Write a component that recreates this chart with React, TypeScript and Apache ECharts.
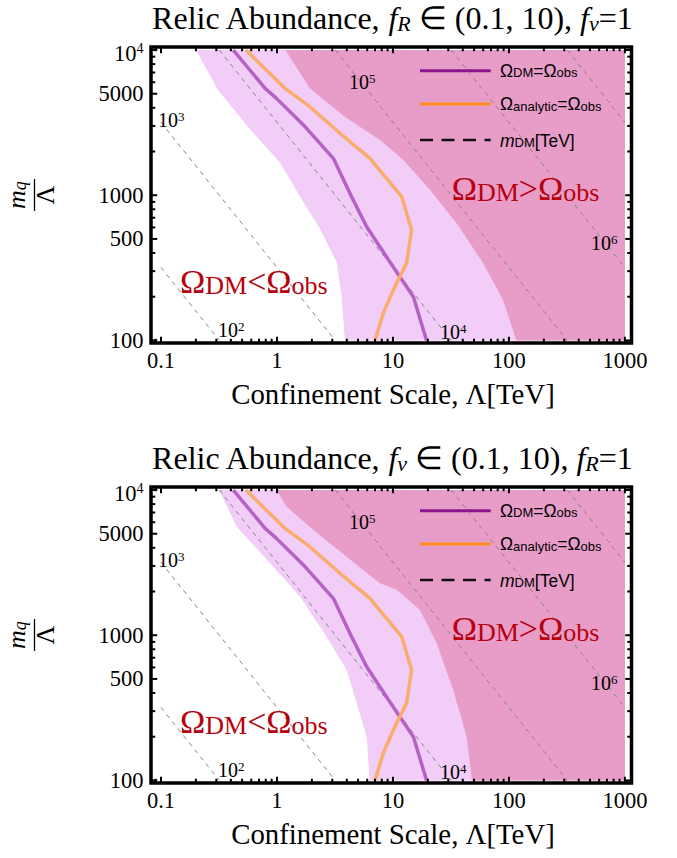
import React, { useEffect, useRef } from 'react';
import * as echarts from 'echarts';

// ---------------- data ----------------
const xMajorTicks = [0.1, 1, 10, 100, 1000];
const xTickLabels = ['0.1', '1', '10', '100', '1000'];
const xMinorTicks = [0.09, 0.2, 0.3, 0.4, 0.5, 0.6, 0.7, 0.8, 0.9, 2, 3, 4, 5, 6, 7, 8, 9,
  20, 30, 40, 50, 60, 70, 80, 90, 200, 300, 400, 500, 600, 700, 800, 900];
const yMajorTicks = [100, 500, 1000, 5000, 10000];
const yTickLabels = ['100', '500', '1000', '5000', '10^4'];
const yMinorTicks = [200, 300, 400, 600, 700, 800, 900, 2000, 3000, 4000, 6000, 7000, 8000, 9000];

// panel 1: f_R in (0.1,10)
const topLight = [[0.2, 10000], [0.31, 5300], [0.585, 2850], [1.06, 1680], [1.58, 980], [2.35, 585],
  [3.27, 345], [3.6, 205], [3.86, 100], [1000, 100], [1000, 10000]];
const topDark = [[1.18, 10000], [1.92, 5450], [3.86, 3460], [7.73, 2400], [12.3, 1750], [20.8, 1090],
  [35.4, 640], [60, 340], [89, 190], [116, 100], [1000, 100], [1000, 10000]];
// panel 2: f_v in (0.1,10)
const bottomLight = [[0.316, 10000], [0.45, 5580], [0.93, 2965], [1.58, 1845], [2.68, 977], [3.99, 577],
  [4.87, 340], [5.93, 200], [6.3, 100], [1000, 100], [1000, 10000]];
const bottomDark = [[0.99, 10000], [1.21, 7680], [2.06, 5310], [3.98, 3473], [7.72, 2280], [10.8, 2053],
  [17.1, 1494], [23.8, 881], [33.1, 420], [43.2, 200], [48, 100], [1000, 100], [1000, 10000]];

// Omega_DM = Omega_obs (same in both panels)
const omegaDMLine = [[0.42, 10000], [0.79, 5446], [0.99, 4645], [1.69, 3048], [3.06, 1795], [4.4, 977],
  [5.93, 607], [9.42, 347], [15, 200], [19.5, 100]];
// Omega_analytic = Omega_obs
const omegaAnalyticLine = [[0.54, 10000], [1.17, 5446], [1.92, 4070], [3.49, 2670], [6.34, 1795],
  [8.3, 1380], [11.9, 977], [14.5, 577], [13.1, 340], [10.1, 223], [8.24, 154], [7.0, 100]];

// m_DM [TeV] contour lines (endpoints)
const mDMLines = [
  [[0.1, 318], [0.318, 100]],
  [[0.1, 3180], [3.18, 100]],
  [[0.318, 10000], [31.8, 100]],
  [[3.18, 10000], [318, 100]],
  [[31.8, 10000], [1000, 318]],
  [[318, 10000], [1000, 3180]],
];
const mDMLabelExp = ['2', '3', '4', '5', '6'];

const panelTitles = [
  '{n|Relic Abundance, }{i|f}{s|R}{n| \u2208 (0.1, 10), }{i|f}{s|v}{n|=1}',
  '{n|Relic Abundance, }{i|f}{s|v}{n| \u2208 (0.1, 10), }{i|f}{s|R}{n|=1}',
];

// ---------------- layout / style ----------------
const GL = 151, GT = 47, GW = 480.5, GH = 296, DY = 440;
const X_MIN = 0.082, X_MAX = 1140, Y_MIN = 96, Y_MAX = 10490;
const SERIF = '"Liberation Serif", "Times New Roman", serif';
const SANS = '"Liberation Sans", Arial, sans-serif';
const LIGHT = '#F1CDF7';
const DARK = '#E89DC8';
const PURPLE_PLOT = '#B463C2';
const ORANGE_PLOT = '#F8AD6D';
const PURPLE_LEG = '#8C168E';
const ORANGE_LEG = '#FF8C1E';
const RED = '#B8000E';

function polygonSeries(points: number[][], gi: number, color: string) {
  return {
    type: 'custom', xAxisIndex: gi, yAxisIndex: gi, silent: true, z: 1,
    data: points,
    renderItem: (params: any, api: any) => {
      if (params.dataIndex !== 0) return null;
      const pts = points.map((p) => api.coord(p));
      return { type: 'polygon', shape: { points: pts }, style: { fill: color } };
    },
  };
}

function lineSeries(points: number[][], gi: number, color: string, width: number, dash: any, z: number) {
  return {
    type: 'line', xAxisIndex: gi, yAxisIndex: gi, data: points, symbol: 'none', silent: true, z,
    lineStyle: { color, width, type: dash },
  };
}

function txt(x: number, y: number, text: string, rich: any, align: string, vAlign: string, base: any) {
  return {
    type: 'text', x, y, silent: true, z: 100,
    style: Object.assign({
      text, rich, align, textAlign: align, verticalAlign: vAlign, textVerticalAlign: vAlign,
      fill: '#000',
    }, base),
  };
}

function supRich(fs: number, sfs: number, family: string) {
  return {
    n: { fontSize: fs, lineHeight: fs, fontFamily: family, fill: '#000' },
    p: { fontSize: sfs, lineHeight: 8, verticalAlign: 'top', fontFamily: family, fill: '#000' },
  };
}

export default function App() {
  const ref = useRef<HTMLDivElement>(null);
  useEffect(() => {
    const chart = echarts.init(ref.current!, undefined, { renderer: 'svg' });
    const axisCommon = {
      type: 'log', logBase: 10,
      axisLine: { show: false }, axisTick: { show: false }, axisLabel: { show: false }, splitLine: { show: false },
    };
    const grids = [0, 1].map((i) => ({
      left: GL, top: GT + i * DY, width: GW, height: GH, show: true,
      borderColor: '#000', borderWidth: 3.5, backgroundColor: 'transparent',
    }));
    const xAxis = [0, 1].map((i) => ({ ...axisCommon, gridIndex: i, min: X_MIN, max: X_MAX }));
    const yAxis = [0, 1].map((i) => ({ ...axisCommon, gridIndex: i, min: Y_MIN, max: Y_MAX }));
    const regions = [[topLight, topDark], [bottomLight, bottomDark]];
    const series: any[] = [];
    regions.forEach((r, i) => {
      series.push(polygonSeries(r[0], i, LIGHT));
      series.push(polygonSeries(r[1], i, DARK));
      mDMLines.forEach((l) => series.push(lineSeries(l, i, '#858585', 1, [4.5, 4.5], 3)));
      series.push(lineSeries(omegaDMLine, i, PURPLE_PLOT, 3.5, 'solid', 4));
      series.push(lineSeries(omegaAnalyticLine, i, ORANGE_PLOT, 3.5, 'solid', 4));
    });
    chart.setOption({ animation: false, grid: grids, xAxis, yAxis, series });

    const g: any[] = [];
    for (let i = 0; i < 2; i++) {
      const top = GT + i * DY, bottom = top + GH, left = GL, right = GL + GW;
      const oy = i * DY;
      const toPx = (x: number, y: number) => chart.convertToPixel({ gridIndex: i } as any, [x, y]) as number[];
      const tick = (x1: number, y1: number, x2: number, y2: number) =>
        g.push({ type: 'line', silent: true, z: 90, shape: { x1, y1, x2, y2 }, style: { stroke: '#000', lineWidth: 2 } });
      const addX = (v: number, len: number) => {
        const px = toPx(v, 1000)[0];
        tick(px, bottom, px, bottom - 1.75 - len);
        tick(px, top, px, top + 1.75 + len);
      };
      const addY = (v: number, len: number) => {
        const py = toPx(1, v)[1];
        tick(left, py, left + 1.75 + len, py);
        tick(right, py, right - 1.75 - len, py);
      };
      xMajorTicks.forEach((v) => addX(v, 4.5));
      xMinorTicks.forEach((v) => addX(v, 2.5));
      yMajorTicks.forEach((v) => addY(v, 4.5));
      yMinorTicks.forEach((v) => addY(v, 2.5));

      // tick labels
      xMajorTicks.forEach((v, k) => {
        const px = toPx(v, 1000)[0];
        g.push(txt(px, bottom + 17, xTickLabels[k], undefined, 'center', 'middle', { fontFamily: SERIF, fontSize: 22.5 }));
      });
      yMajorTicks.forEach((v, k) => {
        const py = toPx(1, v)[1];
        const lab = yTickLabels[k];
        if (lab.indexOf('^') >= 0) {
          const [b, e] = lab.split('^');
          g.push(txt(left - 7.5, py + 3, `{n|${b}}{p|${e}}`, supRich(22.5, 14, SERIF), 'right', 'middle', { fontFamily: SERIF, fontSize: 22.5 }));
        } else {
          g.push(txt(left - 7.5, py, lab, undefined, 'right', 'middle', { fontFamily: SERIF, fontSize: 22.5 }));
        }
      });

      // title
      g.push(txt(392, 18 + oy, panelTitles[i], {
        n: { fontSize: 32, lineHeight: 32, fontFamily: SERIF, fill: '#000' },
        i: { fontSize: 32, lineHeight: 32, fontFamily: SERIF, fontStyle: 'italic', fill: '#000' },
        s: { fontSize: 22, lineHeight: 4, verticalAlign: 'bottom', fontFamily: SERIF, fontStyle: 'italic', fill: '#000' },
      }, 'center', 'middle', { fontFamily: SERIF, fontSize: 32 }));

      // x axis title
      g.push(txt(393, 394 + oy, 'Confinement Scale, \u039B[TeV]', undefined, 'center', 'middle', { fontFamily: SERIF, fontSize: 28.8 }));

      // y axis title (rotated fraction m_q / Λ)
      g.push({
        type: 'group', x: 31, y: 195 + oy, rotation: Math.PI / 2, silent: true, z: 100,
        children: [
          txt(0, -14.8, '{i|m}{s|q}', {
            i: { fontSize: 26, lineHeight: 26, fontFamily: SERIF, fontStyle: 'italic', fill: '#000' },
            s: { fontSize: 18, lineHeight: 10.6, verticalAlign: 'bottom', fontFamily: SERIF, fontStyle: 'italic', fill: '#000' },
          }, 'center', 'middle', { fontFamily: SERIF, fontSize: 26 }),
          { type: 'line', shape: { x1: -16, y1: 3.5, x2: 16, y2: 3.5 }, style: { stroke: '#000', lineWidth: 1.3 } },
          txt(0, 14.9, '\u039B', undefined, 'center', 'middle', { fontFamily: SERIF, fontSize: 26 }),
        ],
      });

      // m_DM labels
      const mPos = [[218, 330], [158, 120], [440, 331.5], [349, 81.5], [591, 243]];
      mPos.forEach((p, k) => {
        g.push(txt(p[0], p[1] + oy, `{n|10}{p|${mDMLabelExp[k]}}`, supRich(20, 13, SERIF), 'left', 'middle', { fontFamily: SERIF, fontSize: 20 }));
      });

      // region annotations
      const omRich = {
        o: { fontSize: 34, lineHeight: 34, fontFamily: SERIF, fill: RED },
        s: { fontSize: 26, lineHeight: 18, verticalAlign: 'bottom', fontFamily: SERIF, fill: RED },
      };
      g.push(txt(180, 281.8 + oy, '{o|\u03A9}{s|DM}{o|<\u03A9}{s|obs}', omRich, 'left', 'middle', { fontFamily: SERIF, fontSize: 34, fill: RED }));
      g.push(txt(451.7, 188.5 + oy, '{o|\u03A9}{s|DM}{o|>\u03A9}{s|obs}', omRich, 'left', 'middle', { fontFamily: SERIF, fontSize: 34, fill: RED }));

      // legend
      const legRich = {
        o: { fontSize: 17.5, lineHeight: 17.5, fontFamily: SANS, fill: '#000' },
        m: { fontSize: 17.5, lineHeight: 17.5, fontFamily: SANS, fontStyle: 'italic', fill: '#000' },
        s: { fontSize: 13, lineHeight: 8, verticalAlign: 'bottom', fontFamily: SANS, fill: '#000' },
      };
      const legY = [70.7, 104, 140];
      g.push({ type: 'line', silent: true, z: 95, shape: { x1: 420, y1: legY[0] + oy, x2: 490.7, y2: legY[0] + oy }, style: { stroke: PURPLE_LEG, lineWidth: 3 } });
      g.push({ type: 'line', silent: true, z: 95, shape: { x1: 420, y1: legY[1] + oy, x2: 490.7, y2: legY[1] + oy }, style: { stroke: ORANGE_LEG, lineWidth: 3 } });
      g.push({ type: 'line', silent: true, z: 95, shape: { x1: 420, y1: legY[2] + oy, x2: 490.7, y2: legY[2] + oy }, style: { stroke: '#111', lineWidth: 2.5, lineDash: [13, 8.5] } });
      g.push(txt(500, legY[0] + oy, '{o|\u03A9}{s|DM}{o|=\u03A9}{s|obs}', legRich, 'left', 'middle', { fontFamily: SANS, fontSize: 17.5 }));
      g.push(txt(500, legY[1] + oy, '{o|\u03A9}{s|analytic}{o|=\u03A9}{s|obs}', legRich, 'left', 'middle', { fontFamily: SANS, fontSize: 17.5 }));
      g.push(txt(500, legY[2] + 0.6 + oy, '{m|m}{s|DM}{o|[TeV]}', legRich, 'left', 'middle', { fontFamily: SANS, fontSize: 17.5 }));
    }
    chart.setOption({ graphic: { elements: g } });
    return () => chart.dispose();
  }, []);
  return <div ref={ref} style={{ position: 'fixed', left: 0, top: 0, width: 677, height: 858, background: '#fff' }} />;
}
